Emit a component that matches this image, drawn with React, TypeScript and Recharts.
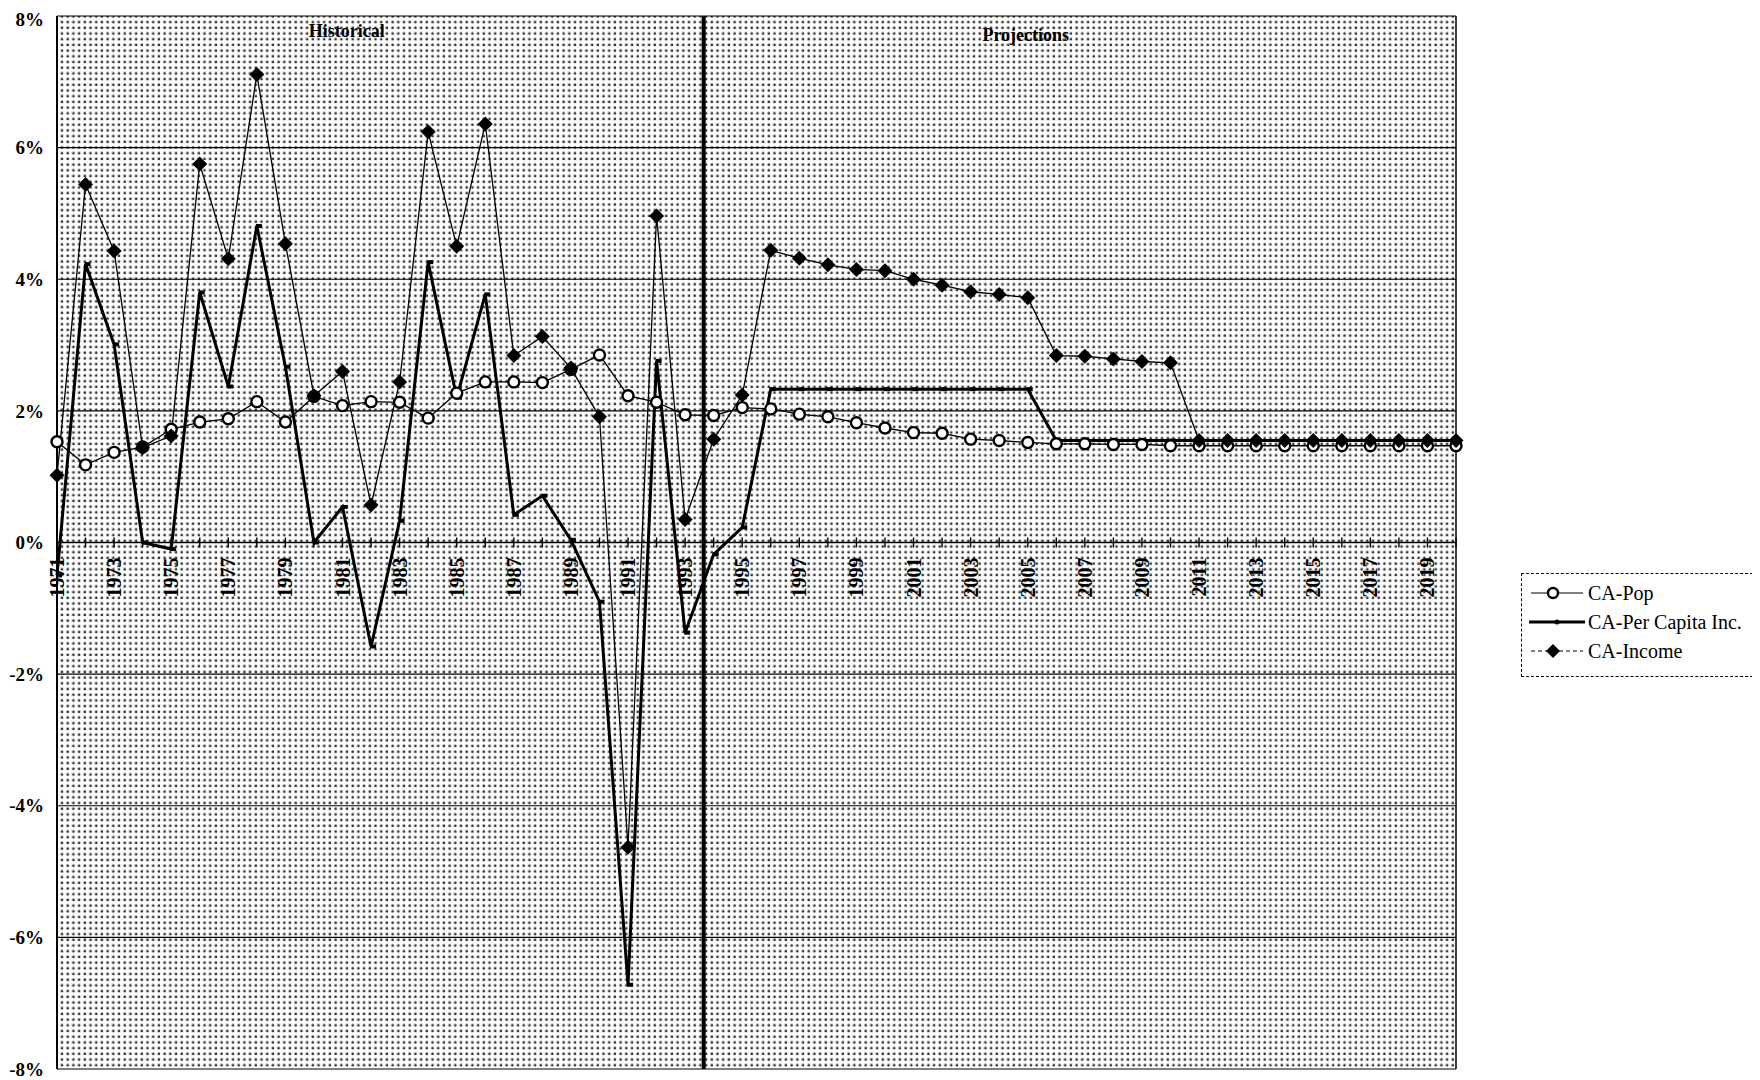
import React from 'react';
import { LineChart, Line, XAxis, YAxis, CartesianGrid, ReferenceLine, Legend } from 'recharts';

const years = [
  1971, 1972, 1973, 1974, 1975, 1976, 1977, 1978, 1979, 1980,
  1981, 1982, 1983, 1984, 1985, 1986, 1987, 1988, 1989, 1990,
  1991, 1992, 1993, 1994, 1995, 1996, 1997, 1998, 1999, 2000,
  2001, 2002, 2003, 2004, 2005, 2006, 2007, 2008, 2009, 2010,
  2011, 2012, 2013, 2014, 2015, 2016, 2017, 2018, 2019, 2020,
];

const caPop = [
  1.53, 1.18, 1.37, 1.45, 1.72, 1.83, 1.88, 2.14, 1.83, 2.22,
  2.08, 2.14, 2.13, 1.89, 2.27, 2.44, 2.44, 2.43, 2.63, 2.85,
  2.23, 2.13, 1.94, 1.93, 2.05, 2.03, 1.95, 1.91, 1.82, 1.74,
  1.67, 1.66, 1.57, 1.55, 1.52, 1.5, 1.5, 1.49, 1.49, 1.47,
  1.47, 1.47, 1.47, 1.47, 1.47, 1.47, 1.47, 1.47, 1.47, 1.47,
];

const caPerCapita = [
  -0.5, 4.23, 3.01, 0.0, -0.1, 3.8, 2.37, 4.81, 2.67, 0.0,
  0.54, -1.58, 0.33, 4.26, 2.2, 3.77, 0.42, 0.71, 0.04, -0.9,
  -6.72, 2.76, -1.37, -0.18, 0.23, 2.33, 2.33, 2.33, 2.33, 2.33,
  2.33, 2.33, 2.33, 2.33, 2.33, 1.55, 1.55, 1.55, 1.55, 1.55,
  1.55, 1.55, 1.55, 1.55, 1.55, 1.55, 1.55, 1.55, 1.55, 1.55,
];

const caIncome = [
  1.02, 5.44, 4.43, 1.44, 1.62, 5.75, 4.31, 7.11, 4.54, 2.23,
  2.6, 0.57, 2.44, 6.24, 4.5, 6.36, 2.84, 3.13, 2.65, 1.91,
  -4.63, 4.96, 0.35, 1.57, 2.24, 4.44, 4.32, 4.22, 4.15, 4.13,
  4.0, 3.91, 3.81, 3.77, 3.72, 2.84, 2.83, 2.79, 2.75, 2.73,
  1.55, 1.55, 1.55, 1.55, 1.55, 1.55, 1.55, 1.55, 1.55, 1.55,
];

const yTicks = [-8, -6, -4, -2, 0, 2, 4, 6, 8];
const labeledYears = years.filter((y) => y % 2 === 1);
const seriesNames = ['CA-Pop', 'CA-Per Capita Inc.', 'CA-Income'];
const periodLabels = ['Historical', 'Projections'];
const periodLabelYears = [1981.15, 2004.93];
const dividerYear = 1993.65;

const data = years.map((year, i) => ({
  year,
  pop: caPop[i],
  pc: caPerCapita[i],
  inc: caIncome[i],
}));

const FONT = '"Liberation Serif", "Times New Roman", serif';
const W = 1752;
const H = 1072;
const M_TOP = 8;
const M_BOTTOM = 10;
const X_AXIS_H = 1;
const PLOT_H = H - M_TOP - M_BOTTOM - X_AXIS_H;
const Y_MIN = -8;
const Y_MAX = 8;
const ZERO_Y = M_TOP + (PLOT_H * (Y_MAX - 0)) / (Y_MAX - Y_MIN);

const XTick = (props: any) => {
  const { x, payload } = props;
  const yr = payload.value;
  const ty = ZERO_Y + 15;
  return (
    <g>
      <line x1={x} x2={x} y1={ZERO_Y - 5} y2={ZERO_Y + 5} stroke="#000" strokeWidth={1.4} />
      {labeledYears.includes(yr) && (
        <text
          x={x}
          y={ty}
          transform={`rotate(-90 ${x} ${ty})`}
          textAnchor="end"
          dy="0.35em"
          fontFamily={FONT}
          fontWeight="bold"
          fontSize={20}
          fill="#000"
        >
          {yr}
        </text>
      )}
    </g>
  );
};

const PopDot = (p: any) =>
  p.cx == null ? null : (
    <circle key={`pop-${p.index}`} cx={p.cx} cy={p.cy} r={5.5} fill="#fff" stroke="#000" strokeWidth={2.4} />
  );

const IncDot = (p: any) =>
  p.cx == null ? null : (
    <polygon
      key={`inc-${p.index}`}
      points={`${p.cx},${p.cy - 7.5} ${p.cx + 7.5},${p.cy} ${p.cx},${p.cy + 7.5} ${p.cx - 7.5},${p.cy}`}
      fill="#000"
    />
  );

const PcDot = (p: any) =>
  p.cx == null ? null : (
    <rect key={`pc-${p.index}`} x={p.cx - 1} y={p.cy - 2} width={6} height={4} fill="#000" />
  );

const LegendIcon = ({ kind }: { kind: number }) => {
  if (kind === 0) {
    return (
      <svg width={56} height={20}>
        <line x1={2} x2={54} y1={10} y2={10} stroke="#000" strokeWidth={1} />
        <circle cx={24} cy={10} r={5} fill="#fff" stroke="#000" strokeWidth={2.4} />
      </svg>
    );
  }
  if (kind === 1) {
    return (
      <svg width={56} height={20}>
        <line x1={0} x2={56} y1={10} y2={10} stroke="#000" strokeWidth={3} />
        <circle cx={28} cy={10} r={2.5} fill="#000" />
      </svg>
    );
  }
  return (
    <svg width={56} height={20}>
      <line x1={2} x2={54} y1={10} y2={10} stroke="#000" strokeWidth={1} strokeDasharray="4 3" />
      <polygon points="24,3 31,10 24,17 17,10" fill="#000" />
    </svg>
  );
};

const LegendBox = () => (
  <div
    style={{
      position: 'relative',
      width: 237,
      height: 104,
      border: '1px dashed #000',
      boxSizing: 'border-box',
      background: '#fff',
      fontFamily: FONT,
      fontSize: 20,
      color: '#000',
    }}
  >
    {seriesNames.map((name, i) => (
      <div
        key={name}
        style={{
          position: 'absolute',
          left: 7,
          top: 5 + i * 29,
          height: 28,
          display: 'flex',
          alignItems: 'center',
          whiteSpace: 'nowrap',
        }}
      >
        <LegendIcon kind={i} />
        <span style={{ marginLeft: 3 }}>{name}</span>
      </div>
    ))}
  </div>
);

export default function App() {
  return (
    <LineChart
      width={W}
      height={H}
      data={data}
      margin={{ top: M_TOP, right: 304, bottom: M_BOTTOM, left: 0 }}
    >
      <defs>
        <pattern id="dots" width={5.7} height={5.7} patternUnits="userSpaceOnUse">
          <rect width={5.7} height={5.7} fill="#ffffff" />
          <rect x={1.5} y={1.5} width={2.4} height={2.4} fill="#333333" />
        </pattern>
      </defs>
      <CartesianGrid
        vertical={false}
        stroke="#000"
        strokeWidth={1.2}
        fill="url(#dots)"
        fillOpacity={1}
      />
      <XAxis
        dataKey="year"
        type="number"
        domain={[1971, 2020]}
        ticks={years}
        interval={0}
        height={X_AXIS_H}
        axisLine={false}
        tickLine={false}
        tick={<XTick />}
      />
      <YAxis
        domain={[Y_MIN, Y_MAX]}
        ticks={yTicks}
        width={49}
        axisLine={{ stroke: '#000', strokeWidth: 2 }}
        tickLine={false}
        tickSize={0}
        tickMargin={13}
        tickFormatter={(v: number) => `${v}%`}
        tick={{ fontFamily: FONT, fontWeight: 'bold', fontSize: 19, fill: '#000' }}
      />
      <ReferenceLine y={0} stroke="#000" strokeWidth={1.6} />
      <ReferenceLine x={2020} stroke="#000" strokeWidth={1.5} />
      <ReferenceLine
        x={periodLabelYears[0]}
        stroke="none"
        label={{
          value: periodLabels[0],
          position: 'insideTop',
          offset: 8,
          fontFamily: FONT,
          fontWeight: 'bold',
          fontSize: 18,
          fill: '#000',
        }}
      />
      <ReferenceLine
        x={periodLabelYears[1]}
        stroke="none"
        label={{
          value: periodLabels[1],
          position: 'insideTop',
          offset: 12,
          fontFamily: FONT,
          fontWeight: 'bold',
          fontSize: 18,
          fill: '#000',
        }}
      />
      <Line
        dataKey="pc"
        name={seriesNames[1]}
        stroke="#000"
        strokeWidth={3}
        dot={PcDot}
        isAnimationActive={false}
      />
      <Line
        dataKey="pop"
        name={seriesNames[0]}
        stroke="#000"
        strokeWidth={1.3}
        dot={PopDot}
        isAnimationActive={false}
      />
      <Line
        dataKey="inc"
        name={seriesNames[2]}
        stroke="#000"
        strokeWidth={1.3}
        dot={IncDot}
        isAnimationActive={false}
      />
      <ReferenceLine x={dividerYear} stroke="#000" strokeWidth={4} />
      <Legend
        layout="vertical"
        align="center"
        verticalAlign="middle"
        content={() => <LegendBox />}
        wrapperStyle={{ position: 'absolute', left: 1513, top: 565, width: 237, height: 104 }}
      />
    </LineChart>
  );
}
